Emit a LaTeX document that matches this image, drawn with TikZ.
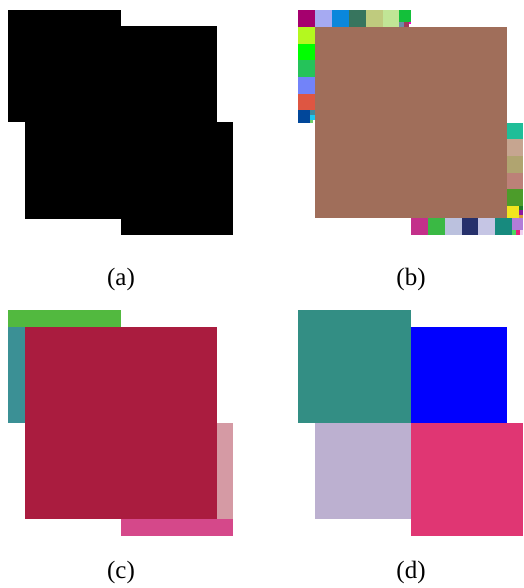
\documentclass[tikz,border=0pt]{standalone}
\usepackage{fontspec}
\setmainfont{Liberation Serif}
\begin{document}
\begin{tikzpicture}[x=1pt,y=-1pt,
  lbl/.style={inner sep=0pt,font=\fontsize{25}{30}\selectfont}]
\useasboundingbox[fill=white] (0,0) rectangle (523,588);
% ---------- (a) ----------
\fill[black] (8,10) rectangle (121,122);
\fill[black] (121,26) rectangle (217,122);
\fill[black] (25,122) rectangle (121,219);
\fill[black] (121,122) rectangle (233,235);
\node[lbl] (la) at (121,279) {(a)};
% ---------- (b) ----------
\definecolor{colt1}{HTML}{A5006E}\definecolor{colt2}{HTML}{A6AAF2}\definecolor{colt3}{HTML}{0A87DC}
\definecolor{colt4}{HTML}{37755E}\definecolor{colt5}{HTML}{BFCB7E}\definecolor{colt6}{HTML}{C1E596}
\definecolor{colt7}{HTML}{13C03A}\definecolor{colt8}{HTML}{6E8CA8}
\fill[fill=colt1] (298,10) rectangle (315,27);
\fill[fill=colt2] (315,10) rectangle (332,27);
\fill[fill=colt3] (332,10) rectangle (349,27);
\fill[fill=colt4] (349,10) rectangle (366,27);
\fill[fill=colt5] (366,10) rectangle (382.7,27);
\fill[fill=colt6] (382.7,10) rectangle (399.3,27);
\fill[fill=colt7] (399.3,10) rectangle (411,22);
\fill[fill=colt8] (399.3,22) rectangle (403.5,27);
\definecolor{cols1}{HTML}{A03C5A}\definecolor{cols2}{HTML}{F000D0}
\fill[fill=cols1] (403.5,22) rectangle (408.5,27);
\fill[fill=cols2] (408.5,22) rectangle (411,24.5);
% left column
\definecolor{coll1}{HTML}{B4F81F}\definecolor{coll2}{HTML}{00FF00}\definecolor{coll3}{HTML}{25C35A}
\definecolor{coll4}{HTML}{7283F9}\definecolor{coll5}{HTML}{DE5642}\definecolor{coll6}{HTML}{01479A}
\fill[fill=coll1] (298,27) rectangle (315,43.7);
\fill[fill=coll2] (298,43.7) rectangle (315,60.3);
\fill[fill=coll3] (298,60.3) rectangle (315,77);
\fill[fill=coll4] (298,77) rectangle (315,93.7);
\fill[fill=coll5] (298,93.7) rectangle (315,110.3);
\fill[fill=coll6] (298,110.3) rectangle (310,122.7);
\definecolor{coll7}{HTML}{3F8A9E}\definecolor{coll8}{HTML}{1EC8F0}\definecolor{coll9}{HTML}{6CD06C}
\fill[fill=coll7] (310,110.3) rectangle (315,115);
\fill[fill=coll8] (310,115) rectangle (315,120);
\fill[fill=coll9] (310,120) rectangle (312.5,122.7);
% right column
\definecolor{colr1}{HTML}{1FBE98}\definecolor{colr2}{HTML}{C6A590}\definecolor{colr3}{HTML}{B0A470}
\definecolor{colr4}{HTML}{BC8178}\definecolor{colr5}{HTML}{4C9C2A}\definecolor{colr6}{HTML}{F2E51E}
\fill[fill=colr1] (507.3,122.7) rectangle (523,139.3);
\fill[fill=colr2] (507.3,139.3) rectangle (523,156);
\fill[fill=colr3] (507.3,156) rectangle (523,172.7);
\fill[fill=colr4] (507.3,172.7) rectangle (523,189.3);
\fill[fill=colr5] (507.3,189.3) rectangle (523,206);
\fill[fill=colr6] (507.3,206) rectangle (519,218.3);
\definecolor{colr7}{HTML}{1E7A2A}\definecolor{colr8}{HTML}{8A1AA0}\definecolor{colr9}{HTML}{D89A3A}
\fill[fill=colr7] (519,206) rectangle (523,210);
\fill[fill=colr8] (519,210) rectangle (523,214.5);
\fill[fill=colr9] (519,214.5) rectangle (523,218.3);
% bottom row
\definecolor{colb1}{HTML}{C3308A}\definecolor{colb2}{HTML}{3AB944}\definecolor{colb3}{HTML}{BBC1DE}
\definecolor{colb4}{HTML}{26306B}\definecolor{colb5}{HTML}{C5C5E4}\definecolor{colb6}{HTML}{178A7E}
\definecolor{colb7}{HTML}{B37DD8}
\fill[fill=colb1] (411,218.3) rectangle (428,235);
\fill[fill=colb2] (428,218.3) rectangle (444.7,235);
\fill[fill=colb3] (444.7,218.3) rectangle (461.7,235);
\fill[fill=colb4] (461.7,218.3) rectangle (478.3,235);
\fill[fill=colb5] (478.3,218.3) rectangle (495,235);
\fill[fill=colb6] (495,218.3) rectangle (511.7,235);
\fill[fill=colb7] (511.7,218.3) rectangle (523,230);
\definecolor{colb8}{HTML}{4CD860}\definecolor{colb9}{HTML}{E8207A}\definecolor{colb10}{HTML}{F0D0F0}
\fill[fill=colb8] (511.7,230) rectangle (515.5,235);
\fill[fill=colb9] (515.5,230) rectangle (520,235);
\fill[fill=colb10] (520,230) rectangle (523,235);
% big brown square
\definecolor{colbrn}{HTML}{A06E5A}
\fill[fill=colbrn] (315,27) rectangle (507.3,218.3);
\node[lbl] (lb) at (411,279) {(b)};
% ---------- (c) ----------
\definecolor{colcg}{HTML}{52B93F}\definecolor{colct}{HTML}{3B9095}\definecolor{colcr}{HTML}{AA1C3F}
\definecolor{colcp}{HTML}{D59AA4}\definecolor{colcm}{HTML}{D5488A}
\fill[fill=colcg] (8,310) rectangle (121,327);
\fill[fill=colct] (8,327) rectangle (25,423);
\fill[fill=colcp] (217,423) rectangle (233,519);
\fill[fill=colcm] (121,519) rectangle (233,536);
\fill[fill=colcr] (25,327) rectangle (217,519);
\node[lbl] (lc) at (121,572) {(c)};
% ---------- (d) ----------
\definecolor{coldt}{HTML}{338E84}\definecolor{coldb}{HTML}{0000FF}
\definecolor{coldl}{HTML}{BCB0D0}\definecolor{coldp}{HTML}{E03673}
\fill[fill=coldt] (298,310) rectangle (411,423);
\fill[fill=coldb] (411,327) rectangle (507,423);
\fill[fill=coldl] (315,423) rectangle (411,519);
\fill[fill=coldp] (411,423) rectangle (523,536);
\node[lbl] (ld) at (411,572) {(d)};
\end{tikzpicture}
\end{document}
